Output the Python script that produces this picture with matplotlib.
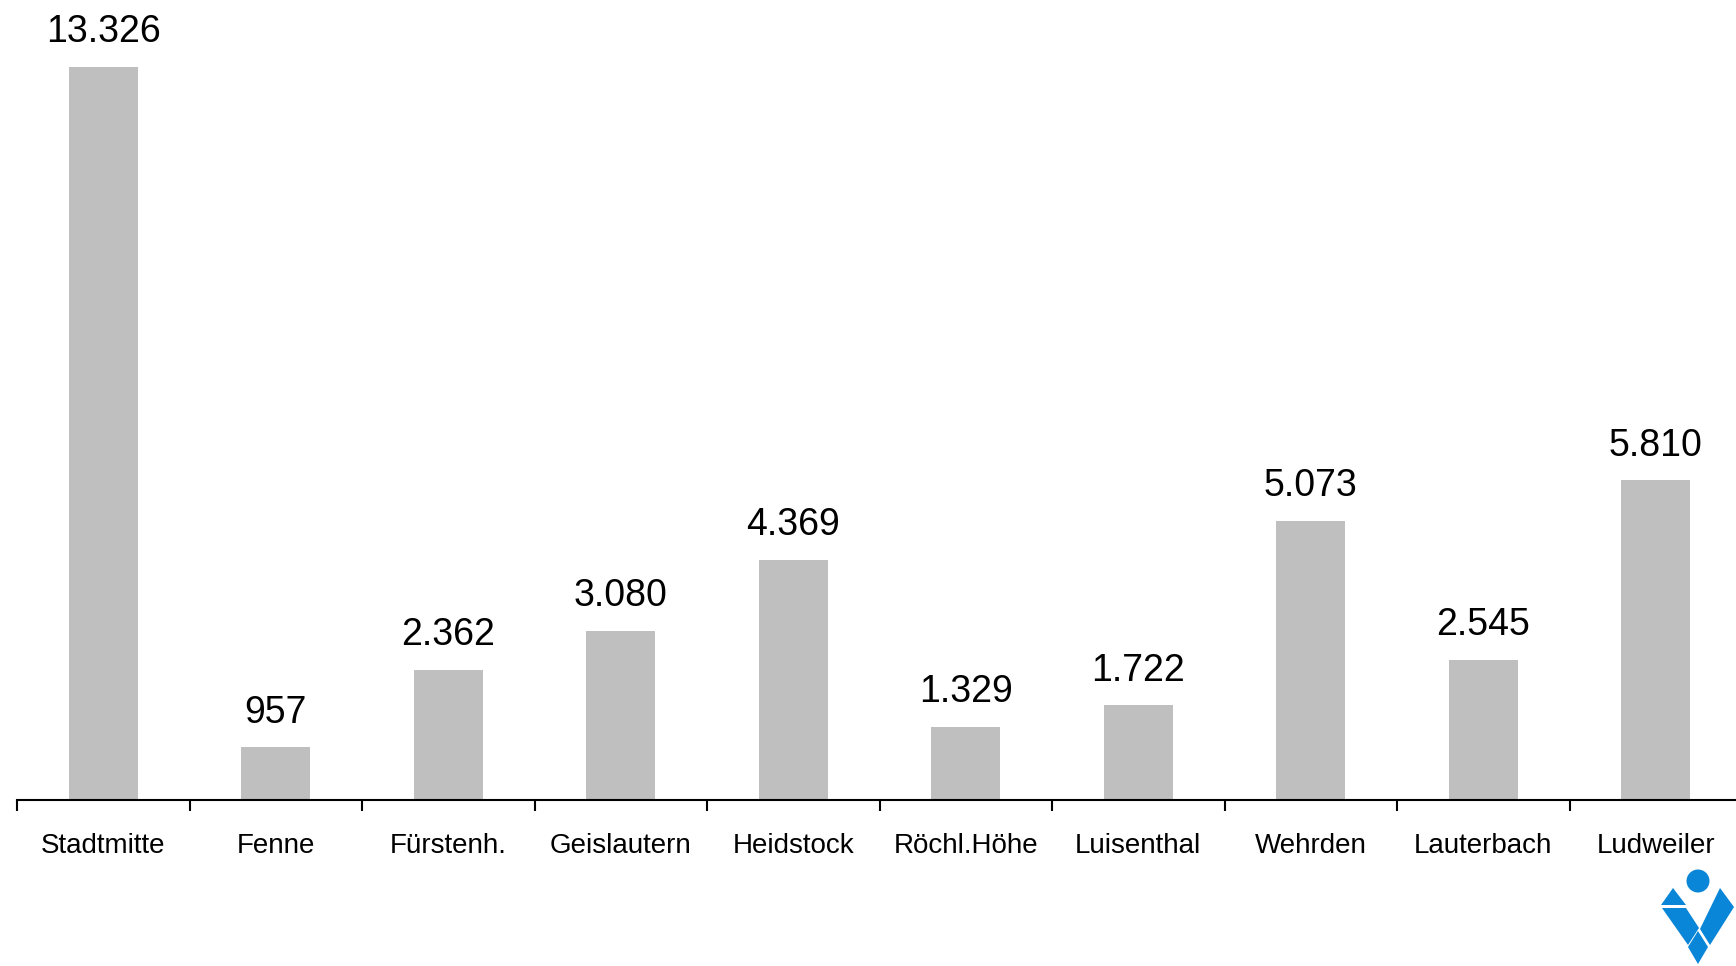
import matplotlib.pyplot as plt
from matplotlib.patches import Polygon, Ellipse

stadtteile = ['Stadtmitte', 'Fenne', 'Fürstenh.', 'Geislautern', 'Heidstock',
              'Röchl.Höhe', 'Luisenthal', 'Wehrden', 'Lauterbach', 'Ludweiler']
einwohner = [13326, 957, 2362, 3080, 4369, 1329, 1722, 5073, 2545, 5810]

plt.rcParams['font.family'] = ['Liberation Sans', 'DejaVu Sans']

W, H = 1736, 966
fig = plt.figure(figsize=(W / 100, H / 100), dpi=100)
# Achse reicht leicht über den rechten Rand hinaus
ax = fig.add_axes([17 / W, (H - 800) / H, 1725 / W, 800 / H])

x = range(len(stadtteile))
ax.bar(x, einwohner, width=0.4, color='#bfbfbf')
ax.set_xlim(-0.5, len(stadtteile) - 0.5)
ax.set_ylim(0, 13326 * 800 / 733)

for xi, v in zip(x, einwohner):
    label = f'{v:,}'.replace(',', '.')
    ax.annotate(label, (xi, v), xytext=(0, 12), textcoords='offset points',
                ha='center', va='bottom', fontsize=27)

for side in ['top', 'right', 'left']:
    ax.spines[side].set_visible(False)
ax.spines['bottom'].set_linewidth(1.5)
ax.set_yticks([])
ax.set_xticks(list(x))
ax.set_xticklabels(stadtteile, fontsize=20)
ax.tick_params(axis='x', which='major', length=0, pad=24)
ax.set_xticks([i - 0.5 for i in range(len(stadtteile) + 1)], minor=True)
ax.tick_params(axis='x', which='minor', length=8, width=1.5, direction='out')

# Logo unten rechts
blau = '#0a86d8'
def fp(pts):
    return [(px / W, 1 - py / H) for px, py in pts]

logo = [
    [(1673, 888), (1661, 905), (1686, 905)],
    [(1662, 908), (1686, 908), (1699, 928), (1688, 945)],
    [(1720, 888), (1734, 907), (1710, 945), (1700, 929)],
    [(1698, 931), (1708, 947), (1698, 964), (1688, 947)],
]
for pts in logo:
    fig.patches.append(Polygon(fp(pts), closed=True, transform=fig.transFigure,
                               facecolor=blau, edgecolor='none'))
fig.patches.append(Ellipse((1698 / W, 1 - 881 / H), 23 / W, 23 / H,
                           transform=fig.transFigure, facecolor=blau, edgecolor='none'))

fig.savefig('out.png', dpi=100)
